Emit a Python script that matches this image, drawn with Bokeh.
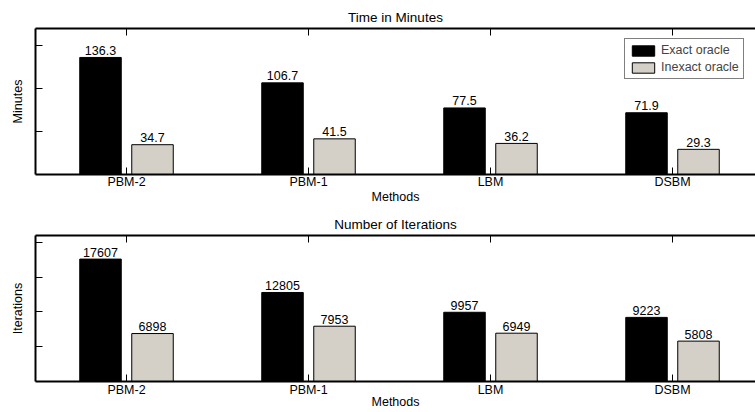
import numpy as np
from bokeh.plotting import figure
from bokeh.layouts import column
from bokeh.models import (Range1d, LinearAxis, FixedTicker, Legend, Title,
                          LegendItem, ColumnDataSource, CustomLabelingPolicy)
from bokeh.core.properties import value
from bokeh.embed import file_html
from bokeh.resources import INLINE

# ---- data ----
methods = ["PBM-2", "PBM-1", "LBM", "DSBM"]
series_names = ["Exact oracle", "Inexact oracle"]
minutes_exact = [136.3, 106.7, 77.5, 71.9]
minutes_inexact = [34.7, 41.5, 36.2, 29.3]
iter_exact = [17607, 12805, 9957, 9223]
iter_inexact = [6898, 7953, 6949, 5808]
minutes_ticks = [50, 100, 150]
iter_ticks = [5000, 10000, 15000, 20000]

FONT = "Liberation Sans"
FS = "12.5px"
TFS = "13.5px"
GRAY = "#d4d0c8"
PX_PER_UNIT = 182.0
LEFT = 35
WIDTH = 755
X0 = 0.5
X1 = X0 + (WIDTH - LEFT) / PX_PER_UNIT
OFF = 26.0 / PX_PER_UNIT
BW = 41.5 / PX_PER_UNIT

NO_LABELS = "return new Set()"


def style_ticks(ax):
    ax.major_tick_in = 7
    ax.major_tick_out = 0
    ax.minor_tick_in = 0
    ax.minor_tick_out = 0
    ax.axis_line_width = 2
    ax.axis_line_color = "black"
    ax.major_tick_line_width = 1
    ax.major_tick_line_color = "black"


def hide_labels(ax, ticks):
    ax.major_label_overrides = {t: "" for t in ticks}
    ax.major_label_policy = CustomLabelingPolicy(code=NO_LABELS)
    ax.major_label_standoff = 0
    ax.major_label_text_font_size = "1px"


def make_panel(exact, inexact, ymax, yticks, title, ylabel, fmt, height,
               top_border, bottom_border, tick_standoff, label_standoff,
               with_legend):
    p = figure(width=WIDTH, height=height, output_backend="svg",
               toolbar_location=None, title=None,
               x_range=Range1d(X0, X1), y_range=Range1d(0, ymax),
               min_border_left=LEFT, min_border_right=0,
               min_border_top=top_border, min_border_bottom=bottom_border,
               x_axis_location=None, y_axis_location=None)
    p.outline_line_color = None
    p.xgrid.visible = False
    p.ygrid.visible = False
    p.background_fill_color = "white"
    p.border_fill_color = "white"

    idx = np.arange(1, len(methods) + 1, dtype=float)
    src_e = ColumnDataSource(dict(x=idx - OFF, top=exact,
                                  lab=[fmt(v) for v in exact]))
    src_i = ColumnDataSource(dict(x=idx + OFF, top=inexact,
                                  lab=[fmt(v) for v in inexact]))
    r_e = p.vbar(x="x", top="top", bottom=0, width=BW, source=src_e,
                 fill_color="black", line_color="black", line_width=1)
    r_i = p.vbar(x="x", top="top", bottom=0, width=BW, source=src_i,
                 fill_color=GRAY, line_color="black", line_width=1)
    for s in (src_e, src_i):
        p.text(x="x", y="top", text="lab", source=s, text_align="center",
               text_baseline="alphabetic", y_offset=-7,
               text_font=value(FONT), text_font_size=FS,
               text_color="black")

    # bottom axis with category names and "Methods"
    xb = LinearAxis(ticker=FixedTicker(ticks=list(idx)))
    xb.major_label_overrides = {i + 1: m for i, m in enumerate(methods)}
    style_ticks(xb)
    xb.major_label_standoff = tick_standoff
    xb.major_label_text_font = FONT
    xb.major_label_text_font_size = FS
    xb.major_label_text_color = "black"
    xb.axis_label = "Methods"
    xb.axis_label_standoff = label_standoff
    xb.axis_label_text_font = FONT
    xb.axis_label_text_font_size = FS
    xb.axis_label_text_font_style = "normal"
    xb.axis_label_text_color = "black"
    p.add_layout(xb, "below")

    # top border with ticks
    xt = LinearAxis(ticker=FixedTicker(ticks=list(idx)))
    style_ticks(xt)
    hide_labels(xt, list(idx))
    p.add_layout(xt, "above")

    # left axis with ticks and y label
    yl = LinearAxis(ticker=FixedTicker(ticks=yticks))
    style_ticks(yl)
    hide_labels(yl, yticks)
    yl.axis_label = ylabel
    yl.axis_label_standoff = 11
    yl.axis_label_text_font = FONT
    yl.axis_label_text_font_size = FS
    yl.axis_label_text_font_style = "normal"
    yl.axis_label_text_color = "black"
    p.add_layout(yl, "left")

    p.add_layout(Title(text=title, align="center", offset=4, standoff=8,
                       text_font=FONT, text_font_size=TFS,
                       text_font_style="normal", text_color="black"), "above")

    if with_legend:
        leg = Legend(items=[LegendItem(label=series_names[0], renderers=[r_e]),
                            LegendItem(label=series_names[1], renderers=[r_i])],
                     location=(589, 95), orientation="vertical",
                     glyph_width=28, glyph_height=13, label_height=13,
                     label_standoff=4, spacing=3, padding=4, margin=0,
                     label_text_font=FONT, label_text_font_size=FS,
                     border_line_color="black", border_line_width=1,
                     background_fill_alpha=1.0)
        p.add_layout(leg, "center")
    return p


p1 = make_panel(minutes_exact, minutes_inexact, 170, minutes_ticks,
                "Time in Minutes", "Minutes", lambda v: f"{v:.1f}",
                207, 28, 33, 0, -2, with_legend=True)

p2 = make_panel(iter_exact, iter_inexact, 21000, iter_ticks,
                "Number of Iterations", "Iterations", lambda v: f"{int(v)}",
                205, 28, 31, 1, -5, with_legend=False)

layout = column(p1, p2, spacing=0)
open("out.html", "w").write(file_html(layout, INLINE))
